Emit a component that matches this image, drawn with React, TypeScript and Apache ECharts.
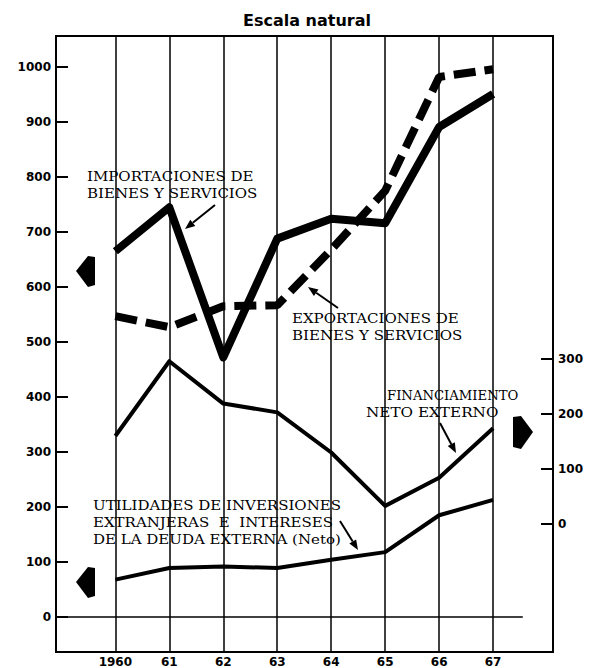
import React, { useEffect, useRef } from "react";
import * as echarts from "echarts";

const years = [1960, 1961, 1962, 1963, 1964, 1965, 1966, 1967];
const yearLabels = ["1960", "61", "62", "63", "64", "65", "66", "67"];
const leftTicks = [0, 100, 200, 300, 400, 500, 600, 700, 800, 900, 1000];
const rightTicks = [0, 100, 200, 300];
const importaciones = [665, 745, 472, 688, 724, 716, 891, 951];
const exportaciones = [547, 527, 565, 567, 668, 775, 982, 996];
const financiamiento = [160, 296, 219, 203, 130, 33, 84, 174];
const utilidades = [68, 89, 92, 89, 104, 118, 185, 213];

const labelImport = "IMPORTACIONES DE\nBIENES Y SERVICIOS";
const labelExport = "EXPORTACIONES DE\nBIENES Y SERVICIOS";
const labelFin1 = "FINANCIAMIENTO";
const labelFin2 = "NETO EXTERNO";
const labelUtil = "UTILIDADES DE INVERSIONES\nEXTRANJERAS  E  INTERESES\nDE LA DEUDA EXTERNA (Neto)";

function arrow(x1: number, y1: number, x2: number, y2: number) {
  const dx = x2 - x1, dy = y2 - y1;
  const len = Math.sqrt(dx * dx + dy * dy);
  const ux = dx / len, uy = dy / len;
  const hl = 10, hw = 4;
  const bx = x2 - ux * hl, by = y2 - uy * hl;
  return [
    { type: "line", shape: { x1, y1, x2: bx, y2: by }, style: { stroke: "#000", lineWidth: 2 } },
    {
      type: "polygon",
      shape: { points: [[x2, y2], [bx - uy * hw, by + ux * hw], [bx + uy * hw, by - ux * hw]] },
      style: { fill: "#000" },
    },
  ];
}

function annot(text: string, x: number, y: number, sx: number, align: string = "left") {
  return {
    type: "text",
    x,
    y,
    scaleX: sx,
    style: {
      text,
      fill: "#000",
      font: "12px 'DejaVu Serif'",
      lineHeight: 17,
      align,
      textVerticalAlign: "top",
    },
  };
}

export default function App() {
  const ref = useRef<HTMLDivElement>(null);
  useEffect(() => {
    if (!ref.current) return;
    const chart = echarts.init(ref.current, undefined, { renderer: "svg" });
    const pair = (arr: number[]) => arr.map((v, i) => [years[i], v]);
    const axisFont = { color: "#000", fontFamily: "'DejaVu Sans'", fontWeight: "bold" as const, fontSize: 12 };
    chart.setOption({
      animation: false,
      backgroundColor: "#fff",
      title: {
        text: "Escala natural",
        left: 238,
        top: 7,
        textStyle: { fontFamily: "'DejaVu Sans'", fontWeight: "bold", fontSize: 16, color: "#000" },
      },
      grid: { left: 56, right: 48, top: 36, bottom: 16, show: true, borderColor: "#000", borderWidth: 2 },
      xAxis: {
        type: "value",
        min: 1958.9,
        max: 1968.11,
        axisLine: { show: false },
        axisTick: { show: false },
        splitLine: { show: false },
        axisLabel: {
          customValues: years,
          formatter: (v: number) => yearLabels[years.indexOf(Math.round(v))] ?? "",
          margin: 4,
          ...axisFont,
        },
      },
      yAxis: [
        {
          type: "value",
          min: -63.6,
          max: 1056.4,
          position: "left",
          axisLine: { show: true, lineStyle: { color: "#000", width: 2 } },
          axisTick: { show: true, inside: true, length: 12, customValues: leftTicks, lineStyle: { color: "#000", width: 2 } },
          axisLabel: { customValues: leftTicks, margin: 5, formatter: (v: number) => String(v), ...axisFont },
          splitLine: { show: false },
        },
        {
          type: "value",
          min: -232.7,
          max: 887.3,
          position: "right",
          axisLine: { show: true, lineStyle: { color: "#000", width: 2 } },
          axisTick: { show: true, inside: true, length: 12, customValues: rightTicks, lineStyle: { color: "#000", width: 2 } },
          axisLabel: { customValues: rightTicks, margin: 5, formatter: (v: number) => String(v), ...axisFont },
          splitLine: { show: false },
        },
      ],
      series: [
        {
          type: "line",
          name: "Utilidades",
          data: pair(utilidades),
          symbol: "none",
          lineStyle: { color: "#000", width: 4, join: "round" },
          z: 5,
          markLine: {
            silent: true,
            symbol: ["none", "none"],
            label: { show: false },
            lineStyle: { color: "#000", width: 1.5, type: "solid" },
            data: [
              ...years.map((y) => ({ xAxis: y })),
              [{ coord: [1958.9, 0] }, { coord: [1967.55, 0] }],
            ],
            z: 1,
          },
        },
        {
          type: "line",
          name: "Financiamiento",
          yAxisIndex: 1,
          data: pair(financiamiento),
          symbol: "none",
          lineStyle: { color: "#000", width: 4, join: "round" },
          z: 5,
        },
        {
          type: "line",
          name: "Importaciones",
          data: pair(importaciones),
          symbol: "none",
          lineStyle: { color: "#000", width: 8, join: "round" },
          z: 6,
        },
        {
          type: "line",
          name: "Exportaciones",
          data: pair(exportaciones),
          symbol: "none",
          lineStyle: { color: "#000", width: 8, type: [22, 9], cap: "butt" },
          z: 6,
        },
      ],
      graphic: [
        annot(labelImport, 87, 168, 1.25),
        annot(labelExport, 292, 310, 1.25),
        annot(labelFin1, 387, 387, 1.1),
        annot(labelFin2, 366, 404, 1.27),
        annot(labelUtil, 93, 497, 1.25),
        ...arrow(215, 205, 185, 229),
        ...arrow(338, 308, 308, 287),
        ...arrow(440, 423, 456, 453),
        ...arrow(340, 521, 358, 550),
        { type: "polygon", shape: { points: [[76, 271], [88, 256], [95, 257], [95, 285], [88, 287]] }, style: { fill: "#000" } },
        { type: "polygon", shape: { points: [[76, 582], [88, 567], [95, 568], [95, 596], [88, 598]] }, style: { fill: "#000" } },
        { type: "polygon", shape: { points: [[533, 432], [521, 416], [513, 417], [513, 447], [521, 449]] }, style: { fill: "#000" } },
      ],
    });
    return () => chart.dispose();
  }, []);
  return <div ref={ref} style={{ width: 601, height: 668, position: "absolute", left: 0, top: 0 }} />;
}
